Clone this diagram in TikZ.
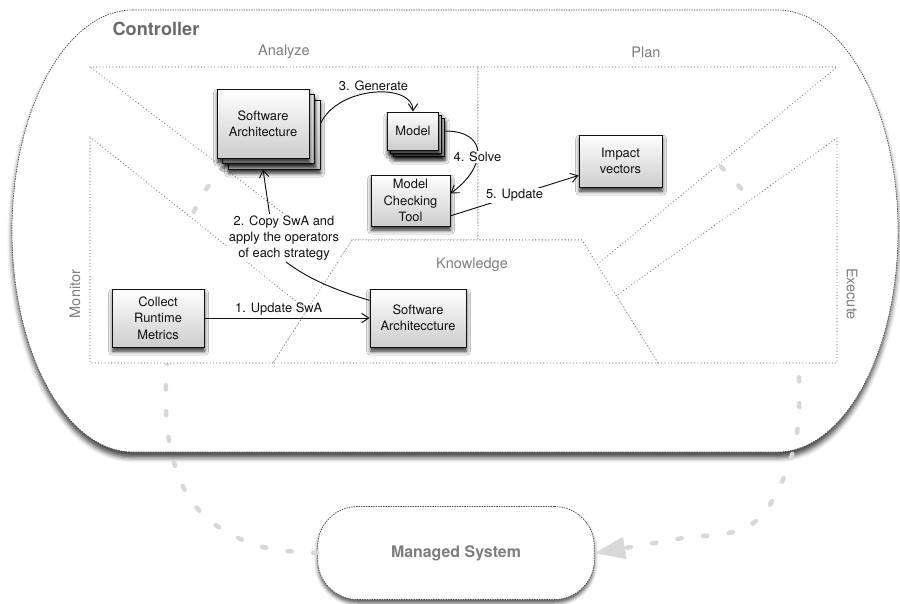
\documentclass[tikz,border=0pt]{standalone}
\usepackage{fontspec}
\setmainfont{TeX Gyre Heros}
\usetikzlibrary{arrows.meta,shadows.blur,calc}
\definecolor{paper}{HTML}{FFFFFF}
\definecolor{ink}{HTML}{111111}
\definecolor{muted}{HTML}{7E7E7E}
\definecolor{heading}{HTML}{6A6A6A}
\definecolor{dots}{HTML}{7A7A7A}
\definecolor{trail}{HTML}{D8D8D8}
\definecolor{sheetlow}{HTML}{CDCDCD}
\newcommand{\PX}{0.03cm}

\begin{document}
\begin{tikzpicture}[
    x=\PX, y=-\PX,
    font=\fontsize{11}{14}\selectfont, ink,
    flow/.style={-{Straight Barb[length=6pt,width=8pt]}, line width=0.8pt, draw=ink},
    lbl/.style={fill=paper, inner sep=1pt, align=center},
    box/.style={draw=ink, line width=0.8pt, top color=white, bottom color=sheetlow, align=center, inner sep=2pt,
      blur shadow={shadow xshift=0.5pt, shadow yshift=-3.5pt, shadow blur radius=3.5pt, shadow opacity=85}},
    region/.style={draw=dots, fill=paper, line width=1pt, line cap=round, dash pattern=on 0pt off 2.8pt},
    zone/.style={text=muted, font=\fontsize{12.4}{14}\selectfont},
    controller/.style={draw=ink!75, fill=paper, line width=0.6pt, dash pattern=on 1.2pt off 0.9pt,
      blur shadow={shadow xshift=0pt, shadow yshift=-5pt, shadow blur radius=4pt, shadow opacity=70}},
    managed/.style={draw=ink!75, fill=paper, line width=0.6pt, dash pattern=on 1.2pt off 0.9pt, rounded corners=1.2cm,
      minimum width=8.3cm, minimum height=2.79cm, text=muted, font=\bfseries\fontsize{13.6}{16}\selectfont,
      blur shadow={shadow xshift=0pt, shadow yshift=-3pt, shadow blur radius=3pt, shadow opacity=65}},
    feedback/.style={draw=trail, line width=3.8pt, line cap=round, dash pattern=on 3.5pt off 18.5pt},
  ]
\useasboundingbox (0,0) rectangle (900,603);

% --- The controller: a wide capsule with a shadow ---------------------------
\draw[controller] (133,10) -- (777,10) arc[start angle=-90, end angle=90, x radius=121, y radius=221]
  -- (133,452) arc[start angle=90, end angle=270, x radius=121, y radius=221] -- cycle;
\node[text=heading, font=\bfseries\fontsize{15.5}{18}\selectfont] (ctrl) at (156,29) {Controller};

% --- The managed system and the loop round it (mostly hidden) ----------------
\node[managed] (ms) at (456,553) {Managed System};
\draw[feedback, -{Triangle[length=26pt,width=19pt,line width=0.5pt]}] plot[smooth, tension=0.6] coordinates {
  (ms.west) (263,547) (213,523) (181,482) (166,410) (175,290) (207,188) (300,112) (470,88)
  (640,112) (728,174) (785,265) (799,380) (791,458) (752,524) (677,539) (ms.east)};

% --- MAPE-K regions ------------------------------------------------------------
\coordinate (tl) at (90,67);
\coordinate (tm) at (478,67);
\coordinate (tr) at (837,67);
\coordinate (ml) at (90,137);
\coordinate (mr) at (837,138);
\coordinate (bl) at (90,363);
\coordinate (br) at (837,363);
\coordinate (k1) at (352,240);
\coordinate (k2) at (582,240);
\coordinate (k3) at (658,363);
\coordinate (k4) at (273,363);
\coordinate (km) at (478,240);
\coordinate (am) at (intersection of tl--270,203 and k1--k4);
\coordinate (mk) at (intersection of ml--287,294 and k1--k4);
\coordinate (pk) at (intersection of tr--600,262 and k2--k3);
\coordinate (ek) at (intersection of mr--620,293 and k2--k3);

\draw[region] (tl) -- (tm) -- (km) -- (k1) -- (am) -- cycle;
\draw[region] (tm) -- (tr) -- (pk) -- (k2) -- (km) -- cycle;
\draw[region] (mr) -- (br) -- (k3) -- (ek) -- cycle;
\draw[region] (ml) -- (mk) -- (k4) -- (bl) -- cycle;
\draw[region] (k1) -- (k2) -- (k3) -- (k4) -- cycle;

\node[zone] (analyze) at (284,52) {Analyze};
\node[zone] (plan) at (646,52) {Plan};
\node[zone] (knowledge) at (472,265) {Knowledge};
\node[zone, rotate=90] (monitor) at (75,294) {Monitor};
\node[zone, rotate=-90] (execute) at (852,294) {Execute};

% --- Boxes ---------------------------------------------------------------------
\node[box, minimum width=2.76cm, minimum height=2.07cm] (sa3) at (274,134.5) {};
\node[box, minimum width=2.76cm, minimum height=2.07cm] (sa2) at (268.5,129) {};
\node[box, minimum width=2.76cm, minimum height=2.07cm] (sa) at (263,123.5) {Software\\Architecture};
\node[box, minimum width=1.53cm, minimum height=1.14cm] (mo3) at (419,137) {};
\node[box, minimum width=1.53cm, minimum height=1.14cm] (mo2) at (416,134) {};
\node[box, minimum width=1.53cm, minimum height=1.14cm] (mo) at (413,131) {Model};
\node[box, minimum width=2.37cm, minimum height=1.53cm] (mct) at (410.5,200.5) {Model\\Checking\\Tool};
\node[box, minimum width=2.49cm, minimum height=1.56cm] (iv) at (620.5,161) {Impact\\vectors};
\node[box, minimum width=2.76cm, minimum height=1.74cm] (crm) at (158,318) {Collect\\Runtime\\Metrics};
\node[box, minimum width=2.88cm, minimum height=1.74cm] (ksa) at (418,318) {Software\\Architeccture};
\node[lbl] (copy) at (284,238) {2. Copy SwA and\\apply the operators\\of each strategy};

% --- Steps ---------------------------------------------------------------------
\draw[flow] (crm) -- node[above, pos=0.45, inner sep=2pt] {1. Update SwA} (ksa);
\draw[flow] (ksa.160) .. controls +(-40,-12) and +(20,15) .. (copy.-85) (copy.121) -- (sa.south |- sa3.south);
\draw[flow] (sa.east -| sa3.east) .. controls +(18,-38) and +(0,-29) .. node[above, inner sep=1pt] {3. Generate} (mo.north);
\draw[flow] (mo.east -| mo3.east) .. controls +(45,0) and +(35,-25) .. node[lbl, pos=0.55] {4. Solve} (mct.10);
\draw[flow] (mct.-21) -- node[lbl] {5. Update} (iv.199);

\end{tikzpicture}
\end{document}
